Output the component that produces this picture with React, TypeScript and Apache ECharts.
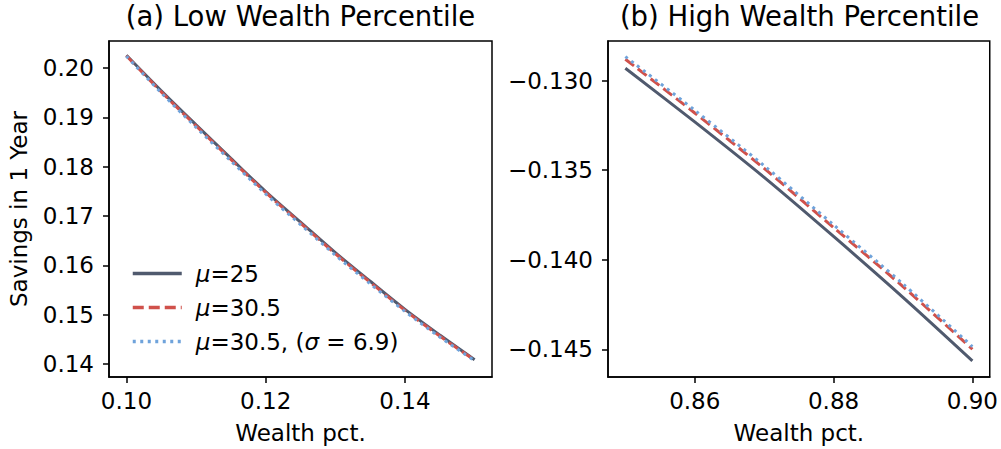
import React, { useEffect, useRef } from "react";
import * as echarts from "echarts";

const LOW_X = [0.1, 0.105, 0.11, 0.115, 0.12, 0.125, 0.13, 0.135, 0.14, 0.145, 0.15];
const LOW_MU25 = [0.2026, 0.1954, 0.1885, 0.1817, 0.175, 0.1688, 0.1626, 0.1568, 0.1511, 0.1459, 0.1409];
const LOW_MU305 = [0.2025, 0.1952, 0.1883, 0.1815, 0.1748, 0.1686, 0.1624, 0.1566, 0.1509, 0.1457, 0.1408];
const LOW_MU305_SIG = [0.2024, 0.195, 0.188, 0.1812, 0.1745, 0.1683, 0.1621, 0.1563, 0.1507, 0.1455, 0.1407];

const HIGH_X = [0.85, 0.86, 0.87, 0.88, 0.89, 0.9];
const HIGH_MU25 = [-0.1293, -0.1323, -0.1354, -0.1387, -0.1421, -0.14565];
const HIGH_MU305 = [-0.1288, -0.1318, -0.1349, -0.1382, -0.1415, -0.145];
const HIGH_MU305_SIG = [-0.12865, -0.13165, -0.13475, -0.13805, -0.14135, -0.14485];

const LOW_XTICKS = [0.1, 0.12, 0.14];
const LOW_YTICKS = [0.14, 0.15, 0.16, 0.17, 0.18, 0.19, 0.2];
const HIGH_XTICKS = [0.86, 0.88, 0.9];
const HIGH_YTICKS = [-0.145, -0.14, -0.135, -0.13];

const NAMES = ["μ=25", "μ=30.5", "μ=30.5, (σ = 6.9)"];
const COLORS = ["#505a6e", "#d0514b", "#6fa3db"];
const TITLES = ["(a) Low Wealth Percentile", "(b) High Wealth Percentile"];

const FONT = "DejaVu Sans";
const FS = 23;

function zip(xs: number[], ys: number[]) {
  return xs.map((x, i) => [x, ys[i]]);
}

export default function App() {
  const ref = useRef<HTMLDivElement>(null);
  useEffect(() => {
    if (!ref.current) return;
    const chart = echarts.init(ref.current, null, { renderer: "svg" });
    const axisCommon = {
      type: "value" as const,
      splitLine: { show: false },
      axisLine: { show: true, onZero: false, lineStyle: { color: "#000", width: 1.5 } },
      axisTick: { show: true, inside: false, length: 6, lineStyle: { color: "#000", width: 1.5 } },
    };
    const labelStyle = { color: "#000", fontFamily: FONT, fontSize: FS };
    const lineStyles = [
      { color: COLORS[0], width: 3, type: "solid" },
      { color: COLORS[1], width: 3, type: [11, 5] },
      { color: COLORS[2], width: 3, type: [3, 4.5] },
    ];
    const lowData = [LOW_MU25, LOW_MU305, LOW_MU305_SIG];
    const highData = [HIGH_MU25, HIGH_MU305, HIGH_MU305_SIG];
    const series: any[] = [];
    lowData.forEach((d, i) => {
      series.push({
        type: "line",
        name: NAMES[i],
        xAxisIndex: 0,
        yAxisIndex: 0,
        data: zip(LOW_X, d),
        symbol: "none",
        smooth: 0.3,
        color: COLORS[i],
        lineStyle: lineStyles[i],
      });
    });
    highData.forEach((d, i) => {
      series.push({
        type: "line",
        name: NAMES[i],
        xAxisIndex: 1,
        yAxisIndex: 1,
        data: zip(HIGH_X, d),
        symbol: "none",
        smooth: 0.3,
        color: COLORS[i],
        lineStyle: lineStyles[i],
      });
    });
    chart.setOption({
      animation: false,
      backgroundColor: "#fff",
      textStyle: { fontFamily: FONT },
      grid: [
        { left: 109, top: 41, width: 383, height: 337, show: true, borderColor: "#000", borderWidth: 1.5, backgroundColor: "transparent" },
        { left: 608, top: 41, width: 383, height: 337, show: true, borderColor: "#000", borderWidth: 1.5, backgroundColor: "transparent" },
      ],
      graphic: [
        { type: "text", x: 300.5, y: 2, style: { text: TITLES[0], fontFamily: FONT, fontSize: 27.5, fill: "#000", align: "center", verticalAlign: "top" } },
        { type: "text", x: 799.5, y: 2, style: { text: TITLES[1], fontFamily: FONT, fontSize: 27.5, fill: "#000", align: "center", verticalAlign: "top" } },
      ],
      xAxis: [
        {
          ...axisCommon,
          gridIndex: 0,
          min: 0.0975,
          max: 0.1525,
          name: "Wealth pct.",
          nameLocation: "middle",
          nameGap: 44,
          nameTextStyle: labelStyle,
          axisTick: { ...axisCommon.axisTick, customValues: LOW_XTICKS },
          axisLabel: { ...labelStyle, margin: 12, customValues: LOW_XTICKS, formatter: (v: number) => v.toFixed(2) },
        },
        {
          ...axisCommon,
          gridIndex: 1,
          min: 0.8475,
          max: 0.9025,
          name: "Wealth pct.",
          nameLocation: "middle",
          nameGap: 44,
          nameTextStyle: labelStyle,
          axisTick: { ...axisCommon.axisTick, customValues: HIGH_XTICKS },
          axisLabel: { ...labelStyle, margin: 12, customValues: HIGH_XTICKS, formatter: (v: number) => v.toFixed(2) },
        },
      ],
      yAxis: [
        {
          ...axisCommon,
          gridIndex: 0,
          min: 0.1374,
          max: 0.2055,
          name: "Savings in 1 Year",
          nameLocation: "middle",
          nameGap: 79,
          nameTextStyle: labelStyle,
          axisTick: { ...axisCommon.axisTick, customValues: LOW_YTICKS },
          axisLabel: { ...labelStyle, margin: 15, customValues: LOW_YTICKS, formatter: (v: number) => v.toFixed(2) },
        },
        {
          ...axisCommon,
          gridIndex: 1,
          min: -0.14655,
          max: -0.12778,
          axisTick: { ...axisCommon.axisTick, customValues: HIGH_YTICKS },
          axisLabel: {
            ...labelStyle,
            margin: 15,
            customValues: HIGH_YTICKS,
            formatter: (v: number) => "\u2212" + Math.abs(v).toFixed(3),
          },
        },
      ],
      legend: {
        data: NAMES,
        orient: "vertical",
        left: 126,
        top: 257,
        itemWidth: 49,
        itemHeight: 24,
        itemGap: 11,
        itemStyle: { color: "rgba(0,0,0,0)", borderWidth: 0, opacity: 0 },
        lineStyle: { width: 3.5 },
        textStyle: {
          color: "#000",
          fontFamily: FONT,
          fontSize: FS,
          padding: [0, 0, 0, 9],
          rich: {
            i: { fontStyle: "italic", fontFamily: FONT, fontSize: FS, color: "#000" },
          },
        },
        formatter: (name: string) => name.replace(/μ/g, "{i|μ}").replace(/σ/g, "{i|σ}"),
        selectedMode: false,
      },
      series,
    });
    return () => chart.dispose();
  }, []);
  return <div ref={ref} style={{ position: "fixed", left: 0, top: 0, width: 1001, height: 449 }} />;
}
